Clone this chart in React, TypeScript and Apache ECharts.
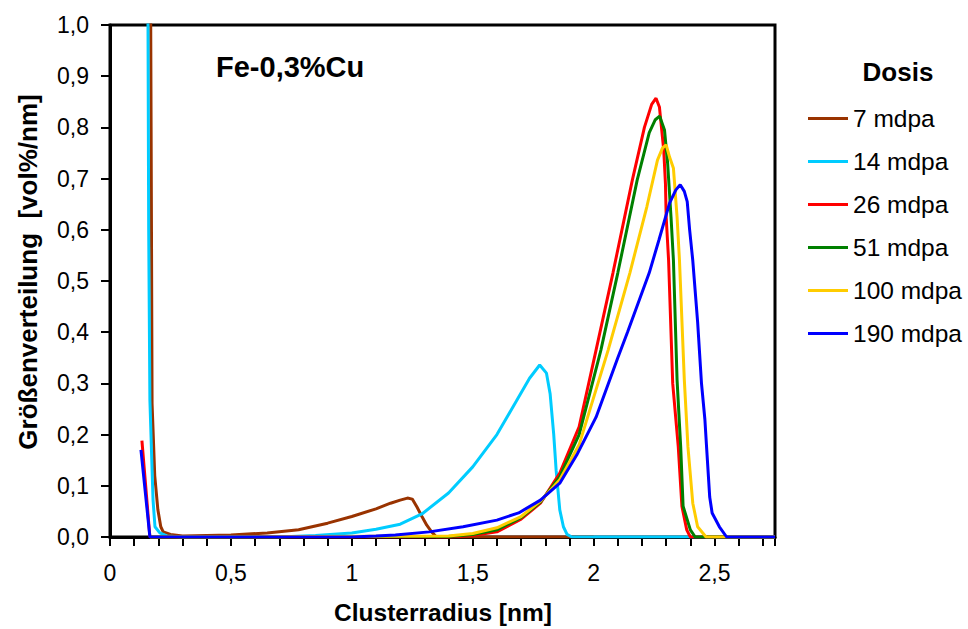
import React, { useEffect, useRef } from "react";
import * as echarts from "echarts";

const seriesNames = ["7 mdpa", "14 mdpa", "26 mdpa", "51 mdpa", "100 mdpa", "190 mdpa"];
const seriesColors = ["#993300", "#00ccff", "#ff0000", "#008000", "#ffcc00", "#0000ff"];

// 7 mdpa
const x7 = [0.166, 0.17, 0.174, 0.185, 0.198, 0.21, 0.22, 0.25, 0.3, 0.5, 0.65, 0.78, 0.9, 1.0, 1.1, 1.16, 1.2, 1.23, 1.25, 1.27, 1.29, 1.31, 1.33, 1.35, 2.0];
const y7 = [1.3, 0.8, 0.26, 0.12, 0.053, 0.02, 0.01, 0.005, 0.002, 0.004, 0.008, 0.014, 0.027, 0.04, 0.055, 0.066, 0.072, 0.076, 0.074, 0.058, 0.04, 0.023, 0.01, 0.0, 0.0];

// 14 mdpa
const x14 = [0.155, 0.16, 0.165, 0.178, 0.186, 0.206, 0.235, 0.3, 0.7, 0.85, 1.0, 1.1, 1.2, 1.29, 1.4, 1.5, 1.6, 1.68, 1.735, 1.777, 1.805, 1.82, 1.835, 1.845, 1.86, 1.875, 1.89, 1.91, 2.75];
const y14 = [1.3, 0.6, 0.267, 0.072, 0.02, 0.008, 0.002, 0.0, 0.0, 0.003, 0.008, 0.015, 0.025, 0.045, 0.086, 0.137, 0.2, 0.265, 0.31, 0.336, 0.32, 0.28, 0.2, 0.13, 0.053, 0.02, 0.005, 0.0, 0.0];

// 26 mdpa
const x26 = [0.132, 0.165, 1.4, 1.5, 1.6, 1.7, 1.78, 1.86, 1.94, 2.01, 2.08, 2.16, 2.21, 2.24, 2.258, 2.272, 2.29, 2.297, 2.3, 2.31, 2.327, 2.35, 2.365, 2.385, 2.4, 2.75];
const y26 = [0.188, 0.0, 0.0, 0.003, 0.01, 0.035, 0.066, 0.125, 0.215, 0.365, 0.516, 0.697, 0.8, 0.845, 0.857, 0.84, 0.755, 0.69, 0.625, 0.54, 0.3, 0.176, 0.06, 0.014, 0.0, 0.0];

// 51 mdpa
const x51 = [0.165, 1.4, 1.5, 1.6, 1.7, 1.78, 1.86, 1.94, 2.03, 2.1, 2.18, 2.23, 2.255, 2.273, 2.293, 2.306, 2.32, 2.33, 2.345, 2.36, 2.37, 2.4, 2.42, 2.75];
const y51 = [0.0, 0.001, 0.005, 0.014, 0.038, 0.068, 0.118, 0.2, 0.365, 0.516, 0.697, 0.79, 0.815, 0.822, 0.795, 0.73, 0.625, 0.54, 0.307, 0.176, 0.06, 0.014, 0.0, 0.0];

// 100 mdpa
const x100 = [0.165, 1.4, 1.5, 1.6, 1.7, 1.78, 1.86, 1.94, 2.06, 2.15, 2.22, 2.264, 2.285, 2.3, 2.314, 2.33, 2.345, 2.355, 2.375, 2.39, 2.41, 2.43, 2.465, 2.75];
const y100 = [0.0, 0.002, 0.007, 0.018, 0.04, 0.07, 0.112, 0.18, 0.365, 0.516, 0.645, 0.736, 0.76, 0.766, 0.742, 0.72, 0.625, 0.54, 0.307, 0.176, 0.066, 0.02, 0.0, 0.0];

// 190 mdpa
const x190 = [0.128, 0.165, 1.0, 1.1, 1.18, 1.32, 1.46, 1.6, 1.69, 1.78, 1.86, 1.93, 2.01, 2.1, 2.14, 2.23, 2.27, 2.314, 2.34, 2.358, 2.375, 2.387, 2.397, 2.41, 2.43, 2.446, 2.46, 2.467, 2.48, 2.49, 2.52, 2.55, 2.75];
const y190 = [0.17, 0.0, 0.0, 0.002, 0.004, 0.01, 0.02, 0.033, 0.047, 0.072, 0.105, 0.16, 0.234, 0.35, 0.4, 0.516, 0.58, 0.652, 0.678, 0.688, 0.675, 0.655, 0.6, 0.54, 0.42, 0.3, 0.23, 0.176, 0.078, 0.047, 0.02, 0.0, 0.0];

const seriesX = [x7, x14, x26, x51, x100, x190];
const seriesY = [y7, y14, y26, y51, y100, y190];

const chartTitle = "Fe-0,3%Cu";
const legendTitle = "Dosis";
const xName = "Clusterradius [nm]";
const yName = "Größenverteilung  [vol%/nm]";

const FONT = "'Liberation Sans', Arial, sans-serif";

export default function App() {
  const ref = useRef<HTMLDivElement>(null);
  useEffect(() => {
    if (!ref.current) return;
    const chart = echarts.init(ref.current, undefined, { renderer: "svg" });
    const series = seriesNames.map((name, i) => ({
      name,
      type: "line",
      data: seriesX[i].map((x, j) => [x, seriesY[i][j]]),
      showSymbol: false,
      symbol: "none",
      clip: true,
      lineStyle: { width: 3, color: seriesColors[i] },
      itemStyle: { color: seriesColors[i] },
      z: 2 + i,
    }));
    chart.setOption({
      animation: false,
      backgroundColor: "#ffffff",
      textStyle: { fontFamily: FONT },
      grid: {
        left: 110,
        top: 25,
        width: 665,
        height: 512,
        show: true,
        borderColor: "#000",
        borderWidth: 3,
        backgroundColor: "#fff",
      },
      xAxis: {
        type: "value",
        min: 0,
        max: 2.75,
        interval: 0.1,
        axisLine: { show: true, onZero: false, lineStyle: { color: "#000", width: 3 } },
        axisTick: { show: true, length: 9, lineStyle: { color: "#000", width: 2 } },
        splitLine: { show: false },
        axisLabel: {
          margin: 24,
          fontSize: 23,
          color: "#000",
          fontFamily: FONT,
          formatter: (v: number) => {
            const r = Math.round(v * 2) / 2;
            if (Math.abs(v - r) > 1e-6 || v > 2.7) return "";
            return String(r).replace(".", ",");
          },
        },
      },
      yAxis: {
        type: "value",
        min: 0,
        max: 1,
        interval: 0.1,
        axisLine: { show: true, lineStyle: { color: "#000", width: 3 } },
        axisTick: { show: true, length: 9, lineStyle: { color: "#000", width: 2 } },
        splitLine: { show: false },
        axisLabel: {
          margin: 21,
          fontSize: 23,
          color: "#000",
          fontFamily: FONT,
          formatter: (v: number) => v.toFixed(1).replace(".", ","),
        },
      },
      legend: {
        orient: "vertical",
        left: 808,
        top: 106,
        padding: 0,
        icon: "rect",
        itemWidth: 40,
        itemHeight: 3,
        itemGap: 18,
        data: seriesNames,
        textStyle: { fontSize: 24.5, lineHeight: 24, color: "#000", fontFamily: FONT },
      },
      graphic: [
        {
          type: "text",
          x: 216,
          y: 67,
          style: { text: chartTitle, font: `bold 29px ${FONT}`, fill: "#000", textAlign: "left", textVerticalAlign: "middle" },
        },
        {
          type: "text",
          x: 898,
          y: 72,
          style: { text: legendTitle, font: `bold 26px ${FONT}`, fill: "#000", textAlign: "center", textVerticalAlign: "middle" },
        },
        {
          type: "text",
          x: 443,
          y: 612,
          style: { text: xName, font: `bold 24.5px ${FONT}`, fill: "#000", textAlign: "center", textVerticalAlign: "middle" },
        },
        {
          type: "text",
          x: 28,
          y: 272,
          rotation: Math.PI / 2,
          style: { text: yName, font: `bold 26px ${FONT}`, fill: "#000", textAlign: "center", textVerticalAlign: "middle" },
        },
      ],
      series,
    });
    return () => chart.dispose();
  }, []);
  return <div ref={ref} style={{ position: "fixed", left: 0, top: 0, width: 968, height: 629 }} />;
}
